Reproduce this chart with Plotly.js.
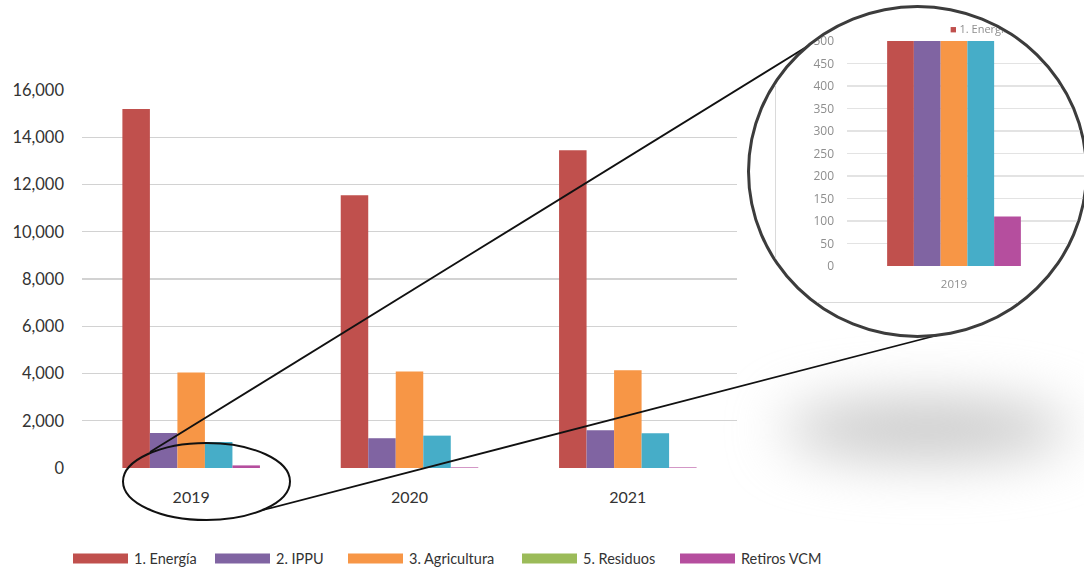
<!DOCTYPE html>
<html>
<head>
<meta charset="utf-8">
<script src="https://cdn.plot.ly/plotly-3.0.1.min.js"></script>
<style>
  html, body { margin: 0; padding: 0; background: #fff; width: 1084px; height: 571px; overflow: hidden; }
  #shadow { position: absolute; left: 782px; top: 400px; width: 290px; height: 58px;
            background: #c6c6c6; border-radius: 50%; filter: blur(28px); z-index: 0; }
  #main { position: absolute; left: 0; top: 0; width: 1084px; height: 571px; z-index: 1; }
  #lens { position: absolute; left: 747px; top: 5px; width: 341px; height: 333px;
          box-sizing: border-box; border: 3px solid #3c3c3c; border-radius: 50%;
          overflow: hidden; background: #fff; z-index: 2; }
  #lens-frame { position: absolute; border-left: 1.5px solid #dadada; border-bottom: 1.5px solid #dadada;
                box-sizing: border-box; overflow: hidden; }
  #zoomplot { position: absolute; left: 0; top: 0; filter: blur(0.55px); }
</style>
</head>
<body>
<div id="shadow"></div>
<div id="main"></div>
<div id="lens"><div id="lens-frame"><div id="zoomplot"></div></div></div>
<script>
// Emissions by sector (Gg CO2e) per year
const years = ['2019', '2020', '2021'];
const energia = [15200, 11540, 13450];
const ippu = [1480, 1260, 1600];
const agricultura = [4040, 4080, 4140];
const residuos = [1100, 1370, 1470];
const retirosVCM = [110, 25, 25];

const seriesNames = ['1. Energía', '2. IPPU', '3. Agricultura', '5. Residuos', 'Retiros VCM'];
const barColors = ['#C0504D', '#8064A2', '#F79646', '#46ADC8', '#B54E9E'];
const legendColors = ['#C0504D', '#8064A2', '#F79646', '#9BBB59', '#B54E9E'];
const seriesValues = [energia, ippu, agricultura, residuos, retirosVCM];

const W = 1084, H = 571;
const px = x => x / W;
const py = y => 1 - y / H;
const FONT = 'Lato, "Open Sans", sans-serif';

// ---------- main grouped bar chart ----------
const mainTraces = seriesValues.map((vals, i) => ({
  type: 'bar',
  name: seriesNames[i],
  x: years,
  y: vals,
  marker: { color: barColors[i] },
  showlegend: false,
  hoverinfo: 'x+y+name'
}));

const shapes = [
  // highlight ellipse around the 2019 base
  { type: 'circle', xref: 'paper', yref: 'paper',
    x0: px(123), x1: px(290), y0: py(520), y1: py(443),
    line: { color: '#111', width: 2 } },
  // connector lines towards the magnifier
  { type: 'line', xref: 'paper', yref: 'paper',
    x0: px(150), y0: py(452), x1: px(816), y1: py(41),
    line: { color: '#111', width: 1.8 } },
  { type: 'line', xref: 'paper', yref: 'paper',
    x0: px(263), y0: py(510), x1: px(946), y1: py(333),
    line: { color: '#111', width: 1.8 } }
];

// custom legend with wide swatches
const legendLeft = [73, 215, 348, 522, 680];
const swW = 55, swH = 10, legY = 558.5;
const annotations = [];
seriesNames.forEach((name, i) => {
  shapes.push({ type: 'rect', xref: 'paper', yref: 'paper',
    x0: px(legendLeft[i]), x1: px(legendLeft[i] + swW),
    y0: py(legY + swH / 2), y1: py(legY - swH / 2),
    fillcolor: legendColors[i], line: { width: 0 } });
  annotations.push({ xref: 'paper', yref: 'paper',
    x: px(legendLeft[i] + swW + 4), y: py(legY),
    xanchor: 'left', yanchor: 'middle', showarrow: false,
    text: name, font: { family: FONT, size: 14.5, color: '#333' } });
});

const mainLayout = {
  width: W, height: H,
  margin: { l: 0, r: 0, t: 0, b: 0 },
  paper_bgcolor: 'rgba(0,0,0,0)', plot_bgcolor: 'rgba(0,0,0,0)',
  barmode: 'group', bargap: 0.37, bargroupgap: 0,
  font: { family: FONT, color: '#333' },
  xaxis: {
    domain: [px(82), px(737)], type: 'category',
    showgrid: false, zeroline: false, showline: false, ticks: '',
    tickfont: { family: FONT, size: 16, color: '#333' },
    ticklabelstandoff: 18
  },
  yaxis: {
    domain: [py(468), py(90)], range: [0, 16000], dtick: 2000,
    tickformat: ',', gridcolor: '#d2d2d2', gridwidth: 1.3,
    zeroline: false, showline: false, ticks: '',
    tickfont: { family: FONT, size: 16.5, color: '#333' },
    ticklabelstandoff: 17
  },
  shapes: shapes,
  annotations: annotations
};

Plotly.newPlot('main', mainTraces, mainLayout, { staticPlot: true, displayModeBar: false });

// ---------- magnified view of the 2019 base (0-500) ----------
const lensOrigin = { x: 747 + 3, y: 5 + 3 };
const frame = { left: 775, top: -40, width: 330, height: 343 };
const fr = document.getElementById('lens-frame');
fr.style.left = (frame.left - lensOrigin.x) + 'px';
fr.style.top = (frame.top - lensOrigin.y) + 'px';
fr.style.width = frame.width + 'px';
fr.style.height = frame.height + 'px';

const fw = frame.width, fh = frame.height;
const fx = x => (x - frame.left) / fw;
const fy = y => 1 - (y - frame.top) / fh;

const zoomTraces = seriesValues.map((vals, i) => ({
  type: 'bar',
  name: seriesNames[i],
  x: [years[0]],
  y: [vals[0]],
  marker: { color: barColors[i] },
  showlegend: false
}));

// the 2019 slot is one third of the axis; the plot runs on past the lens edge
const slotW = 214;
const GRAY = '#8e8e8e';
const ZFONT = '"Open Sans", sans-serif';
const zoomLayout = {
  width: fw, height: fh,
  margin: { l: 0, r: 0, t: 0, b: 0 },
  paper_bgcolor: 'rgba(0,0,0,0)', plot_bgcolor: 'rgba(0,0,0,0)',
  barmode: 'group', bargap: 0.375, bargroupgap: 0,
  xaxis: {
    domain: [fx(846), 1], type: 'category',
    range: [-0.5, -0.5 + (frame.left + fw - 846) / slotW],
    showgrid: false, zeroline: false, showline: false, ticks: '',
    tickfont: { family: ZFONT, size: 11.5, color: GRAY },
    ticklabelstandoff: 9
  },
  yaxis: {
    domain: [fy(266), fy(41)], range: [0, 500], dtick: 50,
    gridcolor: '#e3e3e3', gridwidth: 1.5,
    zeroline: false, showline: false, ticks: '',
    tickfont: { family: ZFONT, size: 12, color: GRAY },
    ticklabelstandoff: 12
  },
  annotations: [{
    xref: 'paper', yref: 'paper', x: fx(947), y: fy(28),
    xanchor: 'left', yanchor: 'middle', showarrow: false,
    text: '<span style="color:' + legendColors[0] + '">■</span> ' + seriesNames[0],
    font: { family: ZFONT, size: 11, color: GRAY }
  }]
};

Plotly.newPlot('zoomplot', zoomTraces, zoomLayout, { staticPlot: true, displayModeBar: false });
</script>
</body>
</html>
